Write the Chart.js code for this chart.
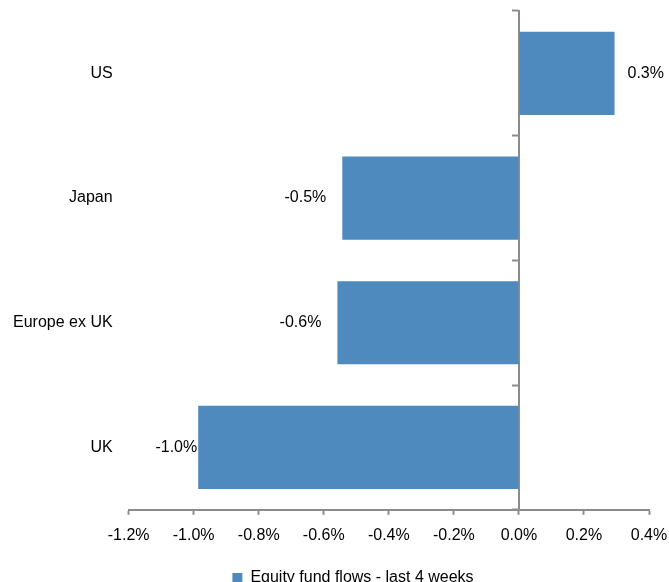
<!DOCTYPE html>
<html>
<head>
<meta charset="utf-8">
<title>Equity fund flows - last 4 weeks</title>
<script src="https://cdn.jsdelivr.net/npm/chart.js@4/dist/chart.umd.min.js"></script>
<style>
  html, body { margin: 0; padding: 0; background: #fff; }
  #wrap { width: 669px; height: 582px; }
</style>
</head>
<body>
<div id="wrap"><canvas id="flowChart"></canvas></div>
<script>
// data (% of AUM)
const regions = ['US', 'Japan', 'Europe ex UK', 'UK'];
const flows4w = [0.294, -0.543, -0.558, -0.986];
const seriesName = 'Equity fund flows - last 4 weeks';
const axisMin = -1.2;
const axisMax = 0.4;
const axisStep = 0.2;

const BAR_BLUE = '#4f8abf';
const AXIS_GREY = '#8c8c8c';
const FONT = { family: '"Liberation Sans", Arial, sans-serif', size: 16 };

function pct(v) {
    if (Math.abs(v) < 1e-9) v = 0;
    return v.toFixed(1) + '%';
}

// keep the chart area where layout.padding puts it
function noScalePadding(scale) {
    scale.paddingLeft = 0;
    scale.paddingRight = 0;
    scale.paddingTop = 0;
    scale.paddingBottom = 0;
}

// value labels next to bar ends
const barLabels = {
    id: 'barLabels',
    afterDatasetsDraw(chart) {
        const ctx = chart.ctx;
        const meta = chart.getDatasetMeta(0);
        ctx.save();
        ctx.font = '16px "Liberation Sans", Arial, sans-serif';
        ctx.fillStyle = '#000';
        ctx.textBaseline = 'middle';
        meta.data.forEach((bar, i) => {
            const v = chart.data.datasets[0].data[i];
            // UK label sits right against its bar in the original
            const gap = (i === regions.length - 1) ? 1 : (v >= 0 ? 13 : 16);
            if (v >= 0) {
                ctx.textAlign = 'left';
                ctx.fillText(pct(v), bar.x + gap, bar.y);
            } else {
                ctx.textAlign = 'right';
                ctx.fillText(pct(v), bar.x - gap, bar.y);
            }
        });
        ctx.restore();
    }
};

// nudge legend to where it sits in the original
const legendNudge = {
    id: 'legendNudge',
    afterLayout(chart) {
        const lg = chart.legend;
        if (!lg) return;
        lg.left += 22; lg.right += 22;
        lg.top += 4; lg.bottom += 4;
    }
};

new Chart(document.getElementById('flowChart'), {
    type: 'bar',
    data: {
        labels: regions,
        datasets: [{
            label: seriesName,
            data: flows4w,
            backgroundColor: BAR_BLUE,
            borderWidth: 0,
            categoryPercentage: 1.0,
            barPercentage: 0.667
        }]
    },
    options: {
        indexAxis: 'y',
        responsive: true,
        maintainAspectRatio: false,
        animation: false,
        layout: { padding: { left: 13, right: 20, top: 11, bottom: -10 } },
        plugins: {
            legend: {
                position: 'bottom',
                labels: {
                    boxWidth: 10,
                    boxHeight: 10,
                    padding: 10,
                    color: '#000',
                    font: FONT
                }
            },
            tooltip: { enabled: false }
        },
        scales: {
            x: {
                type: 'linear',
                min: axisMin,
                max: axisMax,
                afterFit: noScalePadding,
                ticks: {
                    stepSize: axisStep,
                    padding: 11,
                    color: '#000',
                    font: FONT,
                    callback: v => pct(v)
                },
                grid: {
                    drawOnChartArea: false,
                    drawTicks: true,
                    tickLength: 5,
                    tickColor: AXIS_GREY,
                    tickWidth: 2
                },
                border: { display: true, color: AXIS_GREY, width: 2 }
            },
            y: {
                type: 'category',
                offset: true,
                afterFit: noScalePadding,
                ticks: { padding: 0, color: '#000', font: FONT },
                // invisible ticks give the gap between labels and plot
                grid: {
                    drawOnChartArea: false,
                    drawTicks: true,
                    tickLength: 16,
                    tickColor: 'rgba(0,0,0,0)'
                },
                border: { display: false }
            },
            // zero line with the category tick marks
            y2: {
                type: 'category',
                axis: 'y',
                position: { x: 0 },
                offset: true,
                afterFit: noScalePadding,
                ticks: { display: false },
                grid: {
                    offset: true,
                    drawOnChartArea: false,
                    drawTicks: true,
                    tickLength: 6,
                    tickColor: AXIS_GREY,
                    tickWidth: 2
                },
                border: { display: true, color: AXIS_GREY, width: 2 }
            }
        }
    },
    plugins: [barLabels, legendNudge]
});
</script>
</body>
</html>
